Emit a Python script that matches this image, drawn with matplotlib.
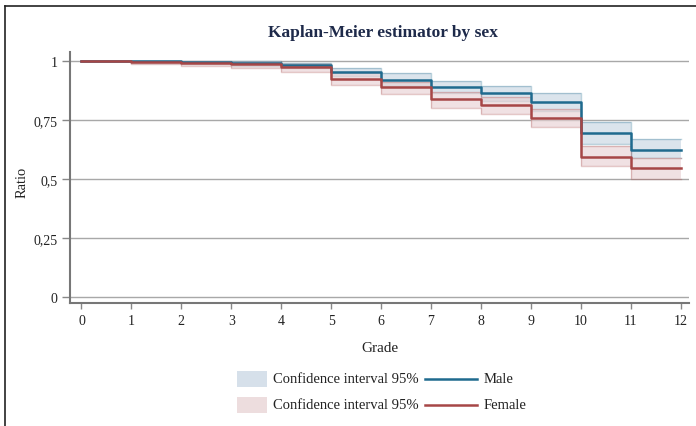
import matplotlib
matplotlib.use("Agg")
import matplotlib.pyplot as plt
import numpy as np
from matplotlib.patches import Rectangle
from matplotlib.lines import Line2D

plt.rcParams['font.family'] = ['Liberation Serif', 'DejaVu Serif']

grades = [0, 1, 2, 3, 4, 5, 6, 7, 8, 9, 10, 11, 12]
male = [1.0, 1.0, 0.998, 0.993, 0.984, 0.953, 0.922, 0.890, 0.865, 0.829, 0.697, 0.625, 0.625]
male_lo = [1.0, 0.995, 0.99, 0.98, 0.972, 0.938, 0.896, 0.865, 0.832, 0.790, 0.651, 0.590, 0.590]
male_hi = [1.0, 1.0, 1.0, 1.0, 0.995, 0.970, 0.949, 0.917, 0.896, 0.865, 0.742, 0.671, 0.671]
female = [1.0, 0.997, 0.993, 0.987, 0.975, 0.927, 0.891, 0.839, 0.815, 0.761, 0.594, 0.547, 0.547]
female_lo = [1.0, 0.988, 0.982, 0.972, 0.955, 0.899, 0.860, 0.803, 0.775, 0.722, 0.554, 0.500, 0.500]
female_hi = [1.0, 1.0, 1.0, 0.998, 0.99, 0.953, 0.913, 0.870, 0.850, 0.796, 0.642, 0.590, 0.590]
yticks = [0, 0.25, 0.5, 0.75, 1]
ytick_labels = ["0", "0,25", "0,5", "0,75", "1"]

W, H = 696, 427
fig = plt.figure(figsize=(W / 100, H / 100), dpi=100)
ax = fig.add_axes([70 / W, 1 - 304 / H, (689 - 70) / W, (304 - 53) / H])

male_c = "#1f6a8e"
female_c = "#a64646"
male_fill = "#c9d6e3"
female_fill = "#e8d2d4"

for y, lo, hi, c, fc in [(male, male_lo, male_hi, male_c, male_fill),
                         (female, female_lo, female_hi, female_c, female_fill)]:
    ax.fill_between(grades, lo, hi, step="post", color=fc, alpha=0.65, lw=0, zorder=2)
    ax.step(grades, lo, where="post", color=c, alpha=0.3, lw=1, zorder=2)
    ax.step(grades, hi, where="post", color=c, alpha=0.3, lw=1, zorder=2)

ax.step(grades, male, where="post", color=male_c, lw=1.8, zorder=4)
ax.step(grades, female, where="post", color=female_c, lw=1.8, zorder=4)

ax.set_xlim(-0.23, 12.17)
ax.set_ylim(-0.027, 1.04)
ax.set_xticks(grades)
ax.set_yticks(yticks)
ax.set_yticklabels(ytick_labels)
ax.grid(axis="y", color="#a8a8a8", lw=1, zorder=1)
ax.tick_params(axis="both", colors="#888888", labelcolor="#222222", labelsize=10, length=6, width=1)
ax.tick_params(axis="x", length=4, pad=4)
ax.tick_params(axis="y", pad=3)
for s in ["top", "right"]:
    ax.spines[s].set_visible(False)
for s in ["left", "bottom"]:
    ax.spines[s].set_color("#777777")
    ax.spines[s].set_linewidth(1.5)

ax.set_xlabel("Grade", fontsize=11, color="#222222", labelpad=10)
ax.set_ylabel("Ratio", fontsize=10.5, color="#222222")
ax.yaxis.set_label_coords((29 - 70) / 619, (304 - 182) / 251)
fig.text(383 / W, 1 - 33 / H, "Kaplan-Meier estimator by sex", ha="center", va="center",
         fontsize=12.5, fontweight="bold", color="#1e2a4a")

# legend drawn in figure pixel space
def px(x, y):
    return x / W, 1 - y / H

for yc, fc, lc, name in [(380, male_fill, male_c, "Male"), (406, female_fill, female_c, "Female")]:
    x0, y0 = px(237, yc + 8)
    fig.add_artist(Rectangle((x0, y0), 30 / W, 16 / H, transform=fig.transFigure,
                             facecolor=fc, alpha=0.75, edgecolor="none"))
    fig.text(*px(273, yc), "Confidence interval 95%", ha="left", va="center", fontsize=10.5, color="#222222")
    lx0, ly = px(425, yc)
    lx1, _ = px(477, yc)
    fig.add_artist(Line2D([lx0, lx1], [ly, ly], transform=fig.transFigure, color=lc, lw=1.8))
    fig.text(*px(484, yc), name, ha="left", va="center", fontsize=10.5, color="#222222")

# partial frame (left and top edges visible)
fig.add_artist(Line2D([5 / W, 5 / W], [0, 1 - 7 / H], transform=fig.transFigure, color="#222222", lw=1.2))
fig.add_artist(Line2D([5 / W, 1], [1 - 7 / H, 1 - 7 / H], transform=fig.transFigure, color="#222222", lw=1.2))

fig.savefig("out.png", dpi=100)
